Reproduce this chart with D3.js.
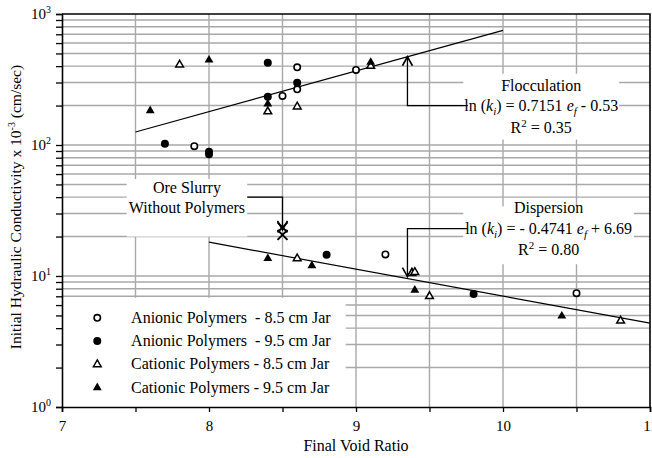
<!DOCTYPE html>
<html>
<head>
<meta charset="utf-8">
<script src="https://cdn.jsdelivr.net/npm/d3@7"></script>
<style>
  body { margin: 0; background: #fff; }
  text { font-family: "Liberation Serif", "Times New Roman", serif; fill: #000; }
</style>
</head>
<body>
<svg id="chart" width="652" height="458"></svg>
<script>
// Final void ratio (e_f) and initial hydraulic conductivity (x 10^-3 cm/sec)
const anionic85E = [7.9, 8.5, 8.6, 8.6, 9.0, 9.2, 10.5];
const anionic85K = [98, 237, 266, 392, 374, 14.6, 7.4];
const anionic95E = [7.7, 8.0, 8.0, 8.4, 8.4, 8.6, 8.8, 9.8];
const anionic95K = [102, 89, 85, 425, 234, 299, 14.5, 7.3];
const cationic85E = [7.8, 8.4, 8.6, 9.1, 8.6, 9.38, 9.4, 9.5, 10.8];
const cationic85K = [410, 180, 196, 400, 13.6, 10.5, 10.7, 7.0, 4.55];
const cationic95E = [7.6, 8.0, 8.4, 9.1, 8.4, 8.7, 9.4, 10.4];
const cationic95K = [183, 445, 206, 428, 13.6, 12.0, 7.8, 4.95];
const slurryE = [8.5, 8.5];
const slurryK = [23.5, 20.6];

// Regression fits: ln(k) = a * e + b
const flocFit = { a: 0.7151, b: -0.53, from: 7.5, to: 10 };
const dispFit = { a: -0.4741, b: 6.69, from: 8, to: 11 };

const xTicks = [7, 7.5, 8, 8.5, 9, 9.5, 10, 10.5, 11];
const xTickLabels = ["7", "", "8", "", "9", "", "10", "", "11"];
const yDecades = [0, 1, 2, 3];
const legendLabels = [
  "Anionic Polymers  - 8.5 cm Jar",
  "Anionic Polymers  - 9.5 cm Jar",
  "Cationic Polymers - 8.5 cm Jar",
  "Cationic Polymers - 9.5 cm Jar"
];

const svg = d3.select("#chart");
const m = { left: 62, top: 14, right: 2, bottom: 51 };
const W = 652 - m.left - m.right, H = 458 - m.top - m.bottom;
const g = svg.append("g").attr("transform", `translate(${m.left},${m.top})`);

const x = d3.scaleLinear().domain([7, 11]).range([0, W]);
const y = d3.scaleLog().domain([1, 1000]).range([H, 0]);

const minorVals = [];
for (const d of [0, 1, 2]) for (let i = 1; i <= 9; i++) minorVals.push(i * Math.pow(10, d));
minorVals.push(1000);

// grid
const gridColor = "#a8a8a8";
g.append("g").selectAll("line").data(xTicks.filter(v => v > 7 && v < 11)).join("line")
  .attr("x1", d => x(d)).attr("x2", d => x(d)).attr("y1", 0).attr("y2", H)
  .attr("stroke", gridColor).attr("stroke-width", 1.4);
g.append("g").selectAll("line").data(minorVals.filter(v => v > 1 && v < 1000)).join("line")
  .attr("x1", 0).attr("x2", W).attr("y1", d => y(d)).attr("y2", d => y(d))
  .attr("stroke", gridColor).attr("stroke-width", 1.4);

// white panels behind annotation text and legend
const panels = [
  { x0: 7.44, x1: 8.26, k0: 55, k1: 20 },    // ore slurry
  { x0: 9.73, x1: 10.79, k0: 350, k1: 110 }, // flocculation
  { x0: 9.73, x1: 10.89, k0: 34, k1: 12.3 }, // dispersion
];
g.append("g").selectAll("rect").data(panels).join("rect")
  .attr("x", d => x(d.x0)).attr("width", d => x(d.x1) - x(d.x0))
  .attr("y", d => y(d.k0)).attr("height", d => y(d.k1) - y(d.k0))
  .attr("fill", "#fff");
const legendTop = y(7) + 1.5;
g.append("rect").attr("x", 0).attr("y", legendTop)
  .attr("width", x(8.93)).attr("height", H - legendTop).attr("fill", "#fff");

// regression lines
const fitLine = f => {
  const pts = [f.from, f.to].map(e => [x(e), y(Math.exp(f.a * e + f.b))]);
  return d3.line()(pts);
};
g.append("path").attr("d", fitLine(flocFit)).attr("stroke", "#000").attr("stroke-width", 1.2).attr("fill", "none");
g.append("path").attr("d", fitLine(dispFit)).attr("stroke", "#000").attr("stroke-width", 1.2).attr("fill", "none");

// leader lines with open arrow heads
const fitK = (f, e) => Math.exp(f.a * e + f.b);
const arrowE = 9.35;
function leader(points, tip, dir) {
  g.append("path").attr("d", d3.line()(points)).attr("fill", "none")
    .attr("stroke", "#000").attr("stroke-width", 1.3);
  const s = dir === "up" ? 1 : -1;
  g.append("path")
    .attr("d", `M${tip[0] - 5},${tip[1] + s * 9}L${tip[0]},${tip[1]}L${tip[0] + 5},${tip[1] + s * 9}`)
    .attr("fill", "none").attr("stroke", "#000").attr("stroke-width", 1.6);
}
const flocTip = [x(arrowE), y(fitK(flocFit, arrowE))];
leader([[x(9.76), y(200)], [x(arrowE), y(200)], flocTip], flocTip, "up");
const dispTip = [x(arrowE), y(fitK(dispFit, arrowE)) - 2];
leader([[x(9.76), y(23)], [x(arrowE), y(23)], dispTip], dispTip, "down");
const slurryTip = [x(8.5), y(22.5)];
leader([[x(8.26), y(40)], [x(8.5), y(40)], slurryTip], slurryTip, "down");

// markers
const tri = d3.symbol().type(d3.symbolTriangle).size(34);
const triOpen = d3.symbol().type(d3.symbolTriangle).size(26);
function points(es, ks) { return es.map((e, i) => ({ e, k: ks[i] })); }
const pg = g.append("g");
pg.selectAll(".a85").data(points(anionic85E, anionic85K)).join("circle")
  .attr("cx", d => x(d.e)).attr("cy", d => y(d.k)).attr("r", 3.2)
  .attr("fill", "#fff").attr("stroke", "#000").attr("stroke-width", 1.6);
pg.selectAll(".a95").data(points(anionic95E, anionic95K)).join("circle")
  .attr("cx", d => x(d.e)).attr("cy", d => y(d.k)).attr("r", 4)
  .attr("fill", "#000");
pg.selectAll(".c85").data(points(cationic85E, cationic85K)).join("path")
  .attr("transform", d => `translate(${x(d.e)},${y(d.k)})`).attr("d", triOpen)
  .attr("fill", "#fff").attr("stroke", "#000").attr("stroke-width", 1.5);
pg.selectAll(".c95").data(points(cationic95E, cationic95K)).join("path")
  .attr("transform", d => `translate(${x(d.e)},${y(d.k)})`).attr("d", tri)
  .attr("fill", "#000");
pg.selectAll(".sl").data(points(slurryE, slurryK)).join("path")
  .attr("transform", d => `translate(${x(d.e)},${y(d.k)})`)
  .attr("d", "M-5,-5L5,5M-5,5L5,-5").attr("stroke", "#000").attr("stroke-width", 2).attr("fill", "none");

// annotation text
const fs = 16;
function centered(px, py, txt) {
  return g.append("text").attr("x", px).attr("y", py).attr("text-anchor", "middle")
    .attr("font-size", fs).text(txt);
}
function equation(px, py, parts) {
  const t = g.append("text").attr("x", px).attr("y", py).attr("text-anchor", "middle").attr("font-size", fs);
  parts.forEach(p => {
    const s = t.append("tspan").text(p.t);
    if (p.it) s.attr("font-style", "italic");
    if (p.sub) s.attr("font-size", 11).attr("dy", 4);
    if (p.sup) s.attr("font-size", 11).attr("dy", -6);
    if (p.back) s.attr("dy", p.back);
  });
  return t;
}
const sx = x(7.85);
centered(sx, y(40) - 4, "Ore Slurry");
centered(sx, y(40) + 16, "Without Polymers");

const fx = x(10.26), fy = y(200) + 5;
centered(fx, fy - 20, "Flocculation");
equation(fx, fy, [
  { t: "ln (" }, { t: "k", it: true }, { t: "i", it: true, sub: true },
  { t: ") = 0.7151 ", back: -4 }, { t: "e", it: true }, { t: "f", it: true, sub: true },
  { t: " - 0.53", back: -4 }
]);
equation(fx, fy + 22, [{ t: "R" }, { t: "2", sup: true }, { t: " = 0.35", back: 6 }]);

const dx = x(10.31), dy = y(23) + 5;
centered(dx, dy - 21, "Dispersion");
equation(dx, dy, [
  { t: "ln (" }, { t: "k", it: true }, { t: "i", it: true, sub: true },
  { t: ") = - 0.4741 ", back: -4 }, { t: "e", it: true }, { t: "f", it: true, sub: true },
  { t: " + 6.69", back: -4 }
]);
equation(dx, dy + 21, [{ t: "R" }, { t: "2", sup: true }, { t: " = 0.80", back: 6 }]);

// legend
const legendRows = [0, 1, 2, 3].map(i => legendTop + 20 + i * 23.3);
const lx = x(7.24);
g.append("circle").attr("cx", lx).attr("cy", legendRows[0]).attr("r", 3.2)
  .attr("fill", "#fff").attr("stroke", "#000").attr("stroke-width", 1.6);
g.append("circle").attr("cx", lx).attr("cy", legendRows[1]).attr("r", 4).attr("fill", "#000");
g.append("path").attr("transform", `translate(${lx},${legendRows[2]})`).attr("d", triOpen)
  .attr("fill", "#fff").attr("stroke", "#000").attr("stroke-width", 1.5);
g.append("path").attr("transform", `translate(${lx},${legendRows[3]})`).attr("d", tri).attr("fill", "#000");
g.selectAll(".lt").data(legendLabels).join("text")
  .attr("x", x(7.47)).attr("y", (d, i) => legendRows[i] + 5)
  .attr("font-size", fs).style("white-space", "pre").text(d => d);

// axes
const xAxis = g.append("g").attr("transform", `translate(0,${H})`)
  .call(d3.axisBottom(x).tickValues(xTicks).tickSize(5).tickPadding(8)
    .tickFormat((d, i) => xTickLabels[i]));
xAxis.selectAll("text").attr("font-size", 15).attr("font-family", "Liberation Serif").attr("fill", "#000");
const yAxis = g.append("g")
  .call(d3.axisLeft(y).tickValues(minorVals).tickSize(6).tickFormat(""));
[xAxis, yAxis].forEach(a => {
  a.select(".domain").attr("stroke", "#000").attr("stroke-width", 1.6);
  a.selectAll(".tick line").attr("stroke", "#000").attr("stroke-width", 1.3);
});
// border on top and right
g.append("path").attr("d", d3.line()([[0, 0], [W, 0], [W, H]]))
  .attr("fill", "none").attr("stroke", "#000").attr("stroke-width", 1.6);

// power-of-ten labels
const yl = g.append("g").selectAll("text").data(yDecades).join("text")
  .attr("x", -11).attr("y", d => y(Math.pow(10, d)) + 5)
  .attr("text-anchor", "end").attr("font-size", 15);
yl.append("tspan").text("10");
yl.append("tspan").attr("font-size", 10).attr("dy", -6).text(d => d);

// axis titles
svg.append("text").attr("x", m.left + W / 2).attr("y", 451)
  .attr("text-anchor", "middle").attr("font-size", 16).text("Final Void Ratio");
const yt = svg.append("text").attr("transform", `translate(21,${m.top + 193}) rotate(-90)`)
  .attr("text-anchor", "middle").attr("font-size", 15.5);
yt.append("tspan").text("Initial Hydraulic Conductivity x 10");
yt.append("tspan").attr("font-size", 10).attr("dy", -6).text("-3");
yt.append("tspan").attr("dy", 6).text(" (cm/sec)");
</script>
</body>
</html>
